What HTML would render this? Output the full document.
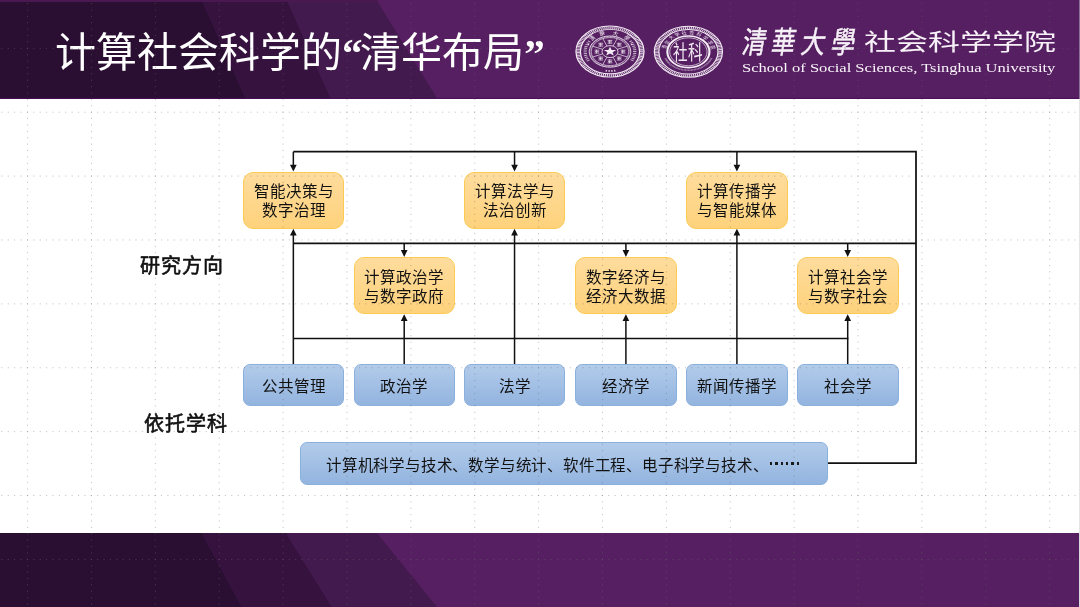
<!DOCTYPE html>
<html lang="zh-CN">
<head>
<meta charset="utf-8">
<style>
html,body{margin:0;padding:0;}
body{width:1080px;height:607px;overflow:hidden;position:relative;background:#fff;will-change:transform;font-family:"Liberation Sans",sans-serif;}
.abs{position:absolute;}
#hdr{left:0;top:0;}
#ftr{left:0;top:533px;}
.title{position:absolute;left:55px;top:26px;font-family:"Liberation Serif",serif;font-size:41px;line-height:54px;color:#fff;white-space:nowrap;}
.q{font-weight:bold;letter-spacing:-2.3px;}
.box{position:absolute;box-sizing:border-box;display:flex;align-items:center;justify-content:center;text-align:center;color:#111;white-space:nowrap;}
.o{width:101.4px;height:57px;padding-top:2px;border-radius:10px;border:1px solid #fbcb55;background:linear-gradient(#fedc9d,#fed27c);font-size:15.5px;line-height:19px;}
.b{width:101.4px;height:42px;border-radius:7px;border:1px solid #8cb0dc;background:linear-gradient(#b2cbea,#93b4df);font-size:15.5px;}
.ell{display:inline-block;position:relative;width:25.6px;height:2.4px;vertical-align:2.6px;}
.ell::after{content:"";position:absolute;left:1.2px;top:0;width:29px;height:2.4px;background:repeating-linear-gradient(90deg,#1a1a1a 0 2.4px,transparent 2.4px 5.3px);}
.lbl{position:absolute;font-size:20px;letter-spacing:1px;color:#111;white-space:nowrap;-webkit-text-stroke:0.6px #111;}
</style>
</head>
<body>
<!-- header band -->
<svg id="hdr" class="abs" width="1080" height="99" viewBox="0 0 1080 99">
  <rect x="0" y="0" width="1080" height="99" fill="#561f62"/>
  <polygon points="0,0 202,0 246,99 0,99" fill="#2a0f33"/>
  <polygon points="202,0 287,0 331,99 246,99" fill="#35133e"/>
  <polygon points="287,0 376.5,0 437.5,99 331,99" fill="#431a4d"/>
  <rect x="0" y="97.8" width="1080" height="1.2" fill="#4a0e58" opacity="0.8"/>
  <rect x="0" y="0" width="378" height="2" fill="#4a1851"/>
</svg>
<svg id="ftr" class="abs" width="1080" height="74" viewBox="0 0 1080 74">
  <rect x="0" y="0" width="1080" height="74" fill="#561f62"/>
  <polygon points="0,0 202,0 242,74 0,74" fill="#2a0f33"/>
  <polygon points="202,0 286,0 332,74 242,74" fill="#35133e"/>
  <polygon points="286,0 377,0 437,74 332,74" fill="#431a4d"/>
</svg>

<svg class="abs" id="seals" style="left:0;top:0" width="1080" height="99" viewBox="0 0 1080 99">
<g transform="translate(610 51.6) scale(1.334 1)" fill="none" stroke="#f4ecf5">
<circle r="25.5" stroke-width="0.95"/>
<circle r="22.2" stroke-width="0.95"/>
<circle r="23.85" stroke-width="2.6" stroke-dasharray="0.8 0.7" opacity="0.9"/>
<text x="0" y="0" transform="translate(-13.13 -13.60) rotate(-44) scale(0.8 1)" font-size="5.4" text-anchor="middle" dominant-baseline="central" fill="#f4ecf5" stroke="none">清</text>
<text x="0" y="0" transform="translate(-5.53 -18.07) rotate(-17) scale(0.8 1)" font-size="5.4" text-anchor="middle" dominant-baseline="central" fill="#f4ecf5" stroke="none">華</text>
<text x="0" y="0" transform="translate(4.25 -18.42) rotate(13) scale(0.8 1)" font-size="5.4" text-anchor="middle" dominant-baseline="central" fill="#f4ecf5" stroke="none">大</text>
<text x="0" y="0" transform="translate(12.89 -13.82) rotate(43) scale(0.8 1)" font-size="5.4" text-anchor="middle" dominant-baseline="central" fill="#f4ecf5" stroke="none">學</text>
<path d="M-16.11 9.30A18.6 18.6 0 0 1 -15.24 -10.67" stroke-width="2.4" stroke-dasharray="0.9 0.9" opacity="0.75"/>
<path d="M15.24 -10.67A18.6 18.6 0 0 1 16.11 9.30" stroke-width="2.4" stroke-dasharray="0.9 0.9" opacity="0.75"/>
<path d="M4.03 18.98A19.4 19.4 0 0 1 -4.03 18.98" stroke-width="1.8" stroke-dasharray="1 1.1" opacity="0.85"/>
<circle cx="-16.2" cy="-7" r="0.7" fill="#f4ecf5" stroke="none"/><circle cx="16.2" cy="-7" r="0.7" fill="#f4ecf5" stroke="none"/>
<circle r="15.6" stroke-width="0.7"/>
<circle r="14.8" stroke-width="1.4" stroke-dasharray="0.5 0.6" opacity="0.7"/>
<circle r="14.0" stroke-width="0.5"/>
<line x1="5.54" y1="2.30" x2="12.93" y2="5.36" stroke-width="0.6"/>
<line x1="2.30" y1="5.54" x2="5.36" y2="12.93" stroke-width="0.6"/>
<line x1="-2.30" y1="5.54" x2="-5.36" y2="12.93" stroke-width="0.6"/>
<line x1="-5.54" y1="2.30" x2="-12.93" y2="5.36" stroke-width="0.6"/>
<line x1="-5.54" y1="-2.30" x2="-12.93" y2="-5.36" stroke-width="0.6"/>
<line x1="-2.30" y1="-5.54" x2="-5.36" y2="-12.93" stroke-width="0.6"/>
<line x1="2.30" y1="-5.54" x2="5.36" y2="-12.93" stroke-width="0.6"/>
<line x1="5.54" y1="-2.30" x2="12.93" y2="-5.36" stroke-width="0.6"/>
<g transform="translate(9.80 0.00)"><path d="M-1.8 -1.4h3.6M-1.5 0h3M-1.8 1.4h3.6M-0.3 -1.9v3.8" stroke-width="0.7" opacity="0.85"/></g>
<g transform="translate(6.93 6.93)"><path d="M-1.8 -1.4h3.6M-1.5 0h3M-1.8 1.4h3.6M-0.3 -1.9v3.8" stroke-width="0.7" opacity="0.85"/></g>
<g transform="translate(0.00 9.80)"><path d="M-1.8 -1.4h3.6M-1.5 0h3M-1.8 1.4h3.6M-0.3 -1.9v3.8" stroke-width="0.7" opacity="0.85"/></g>
<g transform="translate(-6.93 6.93)"><path d="M-1.8 -1.4h3.6M-1.5 0h3M-1.8 1.4h3.6M-0.3 -1.9v3.8" stroke-width="0.7" opacity="0.85"/></g>
<g transform="translate(-9.80 0.00)"><path d="M-1.8 -1.4h3.6M-1.5 0h3M-1.8 1.4h3.6M-0.3 -1.9v3.8" stroke-width="0.7" opacity="0.85"/></g>
<g transform="translate(-6.93 -6.93)"><path d="M-1.8 -1.4h3.6M-1.5 0h3M-1.8 1.4h3.6M-0.3 -1.9v3.8" stroke-width="0.7" opacity="0.85"/></g>
<g transform="translate(-0.00 -9.80)"><path d="M-1.8 -1.4h3.6M-1.5 0h3M-1.8 1.4h3.6M-0.3 -1.9v3.8" stroke-width="0.7" opacity="0.85"/></g>
<g transform="translate(6.93 -6.93)"><path d="M-1.8 -1.4h3.6M-1.5 0h3M-1.8 1.4h3.6M-0.3 -1.9v3.8" stroke-width="0.7" opacity="0.85"/></g>
<circle r="6.0" stroke-width="0.7"/>
<polygon points="0.00,-4.90 1.18,-1.62 4.66,-1.51 1.90,0.62 2.88,3.96 0.00,2.00 -2.88,3.96 -1.90,0.62 -4.66,-1.51 -1.18,-1.62" fill="#f4ecf5" stroke="none"/>
</g>
<g transform="translate(688.4 51.8) scale(1.334 1)" fill="none" stroke="#f4ecf5">
<circle r="25.5" stroke-width="0.95"/>
<circle r="22.2" stroke-width="0.95"/>
<circle r="23.85" stroke-width="2.6" stroke-dasharray="0.8 0.7" opacity="0.9"/>
<text x="0" y="0" transform="translate(-18.24 -4.55) rotate(-76.0) scale(0.8 1)" font-size="4.6" text-anchor="middle" dominant-baseline="central" fill="#f4ecf5" stroke="none">清</text>
<text x="0" y="0" transform="translate(-16.13 -9.65) rotate(-59.111111111111114) scale(0.8 1)" font-size="4.6" text-anchor="middle" dominant-baseline="central" fill="#f4ecf5" stroke="none">华</text>
<text x="0" y="0" transform="translate(-12.63 -13.92) rotate(-42.22222222222223) scale(0.8 1)" font-size="4.6" text-anchor="middle" dominant-baseline="central" fill="#f4ecf5" stroke="none">大</text>
<text x="0" y="0" transform="translate(-8.04 -16.99) rotate(-25.33333333333333) scale(0.8 1)" font-size="4.6" text-anchor="middle" dominant-baseline="central" fill="#f4ecf5" stroke="none">学</text>
<text x="0" y="0" transform="translate(-2.76 -18.60) rotate(-8.444444444444443) scale(0.8 1)" font-size="4.6" text-anchor="middle" dominant-baseline="central" fill="#f4ecf5" stroke="none">社</text>
<text x="0" y="0" transform="translate(2.76 -18.60) rotate(8.444444444444443) scale(0.8 1)" font-size="4.6" text-anchor="middle" dominant-baseline="central" fill="#f4ecf5" stroke="none">会</text>
<text x="0" y="0" transform="translate(8.04 -16.99) rotate(25.333333333333343) scale(0.8 1)" font-size="4.6" text-anchor="middle" dominant-baseline="central" fill="#f4ecf5" stroke="none">科</text>
<text x="0" y="0" transform="translate(12.63 -13.92) rotate(42.22222222222223) scale(0.8 1)" font-size="4.6" text-anchor="middle" dominant-baseline="central" fill="#f4ecf5" stroke="none">学</text>
<text x="0" y="0" transform="translate(16.13 -9.65) rotate(59.111111111111114) scale(0.8 1)" font-size="4.6" text-anchor="middle" dominant-baseline="central" fill="#f4ecf5" stroke="none">学</text>
<text x="0" y="0" transform="translate(18.24 -4.55) rotate(76.0) scale(0.8 1)" font-size="4.6" text-anchor="middle" dominant-baseline="central" fill="#f4ecf5" stroke="none">院</text>
<path d="M17.29 6.29A18.4 18.4 0 0 1 -17.29 6.29" stroke-width="1.6" stroke-dasharray="0.6 0.5" opacity="0.6"/>
<circle r="15.8" stroke-width="1.6"/>
<circle r="14.0" stroke-width="0.6"/>
</g>
</svg>
<div class="abs" id="cal" style="left:745.5px;top:22.5px;font-size:30px;line-height:40px;letter-spacing:7px;color:#f6f0f7;white-space:nowrap;transform-origin:0 0;transform:scaleX(0.8) skewX(-12deg);-webkit-text-stroke:0.5px #f6f0f7">清華大學</div>
<div class="abs" style="left:668.4px;top:41.3px;width:40px;height:24px;font-size:20px;line-height:24px;color:#f3ebf4;white-space:nowrap;transform:scaleX(0.73);transform-origin:20px 12px;text-align:center">社科</div>
<div class="abs" id="skxy" style="left:864px;top:27px;font-size:23px;line-height:30px;color:#f8f2f8;white-space:nowrap;transform-origin:0 0;transform:scaleX(1.388)">社会科学学院</div>
<div class="abs" id="eng" style="left:741.5px;top:60.7px;font-family:'Liberation Serif',serif;font-size:12px;line-height:14px;color:#faf4fa;white-space:nowrap;transform-origin:0 0;transform:scaleX(1.377)">School of Social Sciences, Tsinghua University</div>

<div class="title">计算社会科学的<b class="q">“</b>清华布局<b class="q">”</b></div>

<!-- diagram lines -->
<svg class="abs" style="left:0;top:0" width="1080" height="607" viewBox="0 0 1080 607">
  <g stroke="#111" fill="none">
    <path d="M293.35 151.7 H916 V463 H827" stroke-width="1.75"/>
<path d="M293.35 243.4 H916" stroke-width="1.6"/>
<path d="M293.35 338.6 H848.4" stroke-width="1.5"/>
<path d="M293.35 151.8 V166 M293.35 364.5 V234 M514.55 151.8 V166 M514.55 364.5 V234 M736.9 151.8 V166 M736.9 364.5 V234 M404.2 243.4 V251 M404.2 364.5 V319 M625.9 243.4 V251 M625.9 364.5 V319 M847.7 243.4 V251 M847.7 364.5 V319" stroke-width="1.5"/>
  </g>
  <path fill="#111" d="M290.00 164.80h6.70L293.35 171.60z M290.00 235.60h6.70L293.35 228.80z M511.20 164.80h6.70L514.55 171.60z M511.20 235.60h6.70L514.55 228.80z M733.55 164.80h6.70L736.90 171.60z M733.55 235.60h6.70L736.90 228.80z M400.85 250.10h6.70L404.20 256.90z M400.85 321.00h6.70L404.20 314.20z M622.55 250.10h6.70L625.90 256.90z M622.55 321.00h6.70L625.90 314.20z M844.35 250.10h6.70L847.70 256.90z M844.35 321.00h6.70L847.70 314.20z"/>
</svg>

<!-- orange boxes -->
<div class="box o" style="left:242.85px;top:171.8px">智能决策与<br>数字治理</div>
<div class="box o" style="left:464.05px;top:171.8px">计算法学与<br>法治创新</div>
<div class="box o" style="left:686.40px;top:171.8px">计算传播学<br>与智能媒体</div>
<div class="box o" style="left:353.70px;top:257px">计算政治学<br>与数字政府</div>
<div class="box o" style="left:575.40px;top:257px">数字经济与<br>经济大数据</div>
<div class="box o" style="left:797.20px;top:257px">计算社会学<br>与数字社会</div>

<!-- blue boxes -->
<div class="box b" style="left:242.85px;top:364px">公共管理</div>
<div class="box b" style="left:353.70px;top:364px">政治学</div>
<div class="box b" style="left:464.05px;top:364px">法学</div>
<div class="box b" style="left:575.40px;top:364px">经济学</div>
<div class="box b" style="left:686.40px;top:364px">新闻传播学</div>
<div class="box b" style="left:797.20px;top:364px">社会学</div>
<div class="box b" id="wide" style="letter-spacing:-0.2px;padding-right:7px;left:299.5px;top:442px;width:528px;height:43px">计算机科学与技术、数学与统计、软件工程、电子科学与技术、<span class="ell"></span></div>

<div class="lbl" style="left:140px;top:250px">研究方向</div>
<div class="lbl" style="left:143.5px;top:408px">依托学科</div>

<svg class="abs" style="left:0;top:0" width="1080" height="607" viewBox="0 0 1080 607"><defs><clipPath id="cb"><rect x="0" y="99" width="1080" height="434"/></clipPath><clipPath id="cp"><rect x="0" y="0" width="1080" height="99"/><rect x="0" y="533" width="1080" height="74"/></clipPath></defs><g clip-path="url(#cp)" fill="none" stroke="rgba(100,100,100,0.55)" stroke-width="1" stroke-dasharray="1 5.388"><path d="M27.60 -3.30V607 M91.48 -3.30V607 M155.36 -3.30V607 M219.24 -3.30V607 M283.12 -3.30V607 M347.00 -3.30V607 M410.88 -3.30V607 M474.76 -3.30V607 M538.64 -3.30V607 M602.52 -3.30V607 M666.40 -3.30V607 M730.28 -3.30V607 M794.16 -3.30V607 M858.04 -3.30V607 M921.92 -3.30V607 M985.80 -3.30V607 M1049.68 -3.30V607"/><path d="M-5.04 48.30H1080 M-5.04 112.19H1080 M-5.04 176.08H1080 M-5.04 239.97H1080 M-5.04 303.86H1080 M-5.04 367.75H1080 M-5.04 431.64H1080 M-5.04 495.53H1080 M-5.04 559.42H1080"/></g><g clip-path="url(#cb)" fill="none" stroke="rgba(90,90,90,0.4)" stroke-width="1" stroke-dasharray="1 5.388"><path d="M27.60 -3.30V607 M91.48 -3.30V607 M155.36 -3.30V607 M219.24 -3.30V607 M283.12 -3.30V607 M347.00 -3.30V607 M410.88 -3.30V607 M474.76 -3.30V607 M538.64 -3.30V607 M602.52 -3.30V607 M666.40 -3.30V607 M730.28 -3.30V607 M794.16 -3.30V607 M858.04 -3.30V607 M921.92 -3.30V607 M985.80 -3.30V607 M1049.68 -3.30V607"/><path d="M-5.04 48.30H1080 M-5.04 112.19H1080 M-5.04 176.08H1080 M-5.04 239.97H1080 M-5.04 303.86H1080 M-5.04 367.75H1080 M-5.04 431.64H1080 M-5.04 495.53H1080 M-5.04 559.42H1080"/></g></svg>
<div class="abs" style="left:1079px;top:0;width:1px;height:607px;background:#e4e4e4"></div>
<div class="abs" style="left:1079px;top:0;width:1px;height:99px;background:#8c6f98"></div>
<div class="abs" style="left:1079px;top:533px;width:1px;height:74px;background:#dcd6de"></div>
</body>
</html>
